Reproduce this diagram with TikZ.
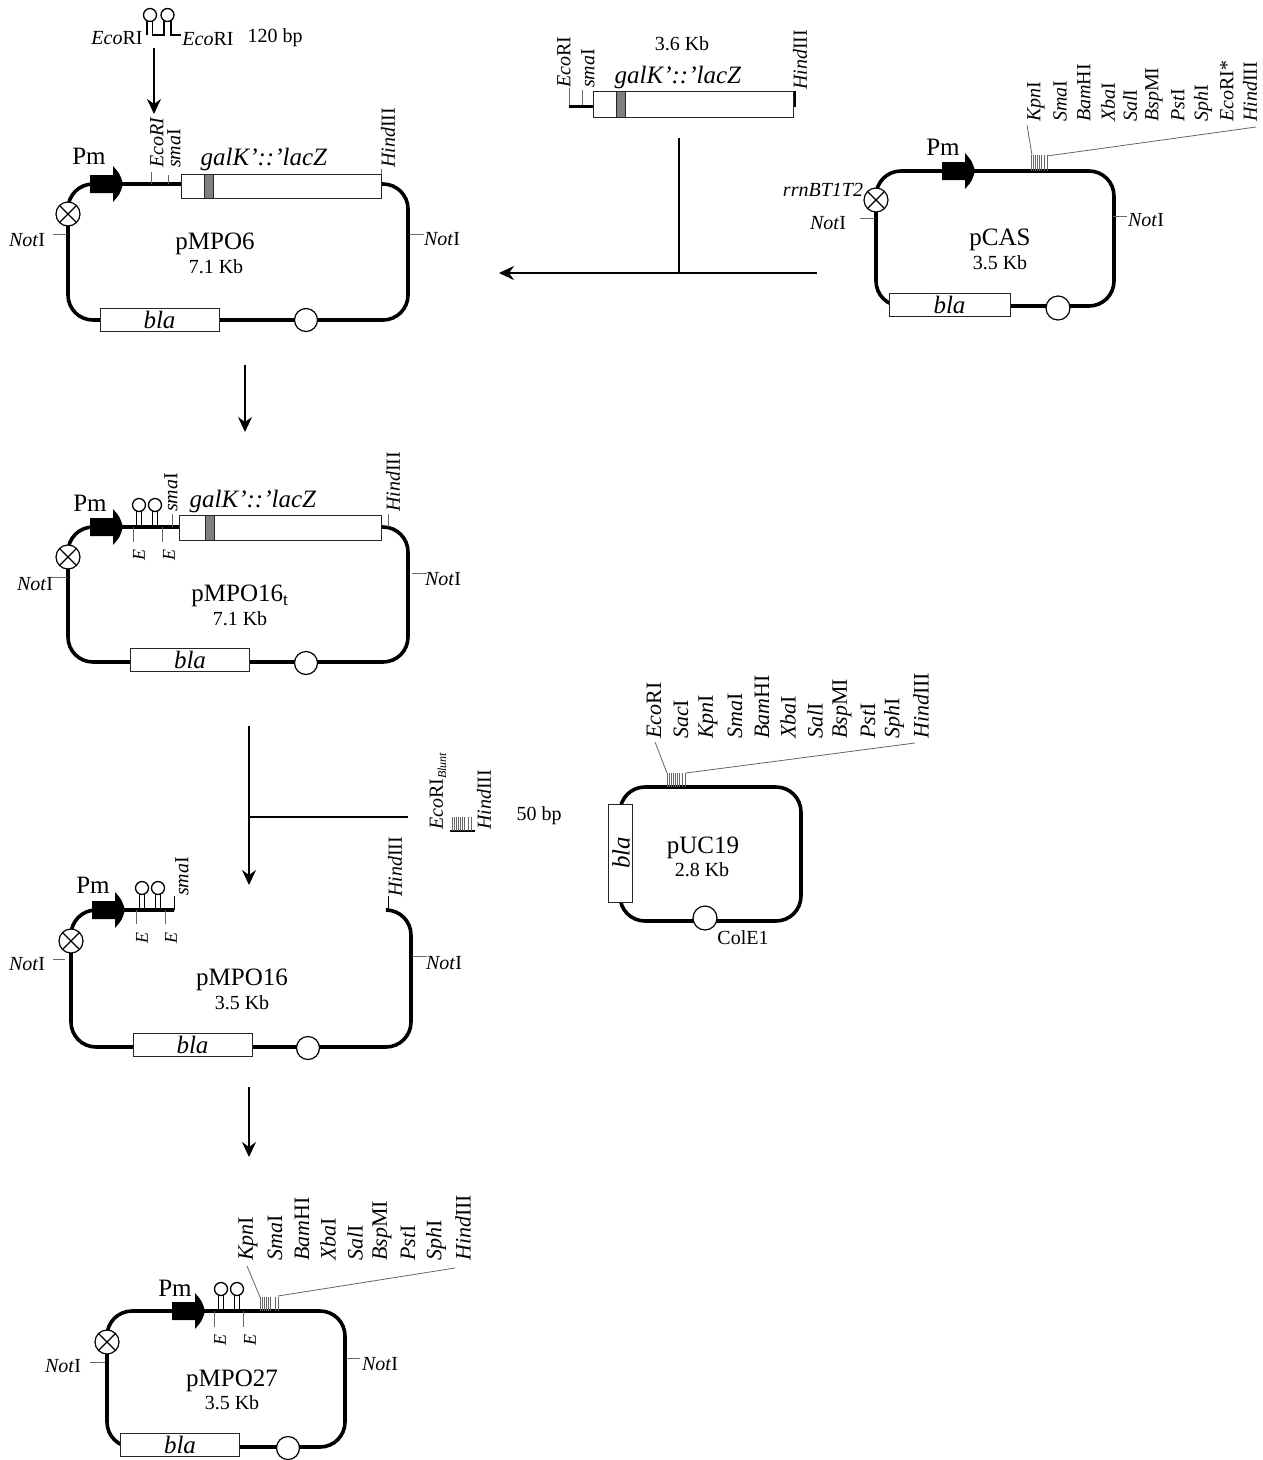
\documentclass[tikz,border=0pt]{standalone}
\usepackage{fontspec}
\setmainfont{Liberation Serif}
\usetikzlibrary{arrows.meta}

\newcommand{\en}[2]{\textit{#1}#2}

\tikzset{
    backbone/.style={line width=3.6pt, rounded corners=25pt},
    flow/.style={line width=1.6pt, -{Stealth[length=15pt,width=14pt,inset=5pt]}},
    flowline/.style={line width=1.6pt},
    tickline/.style={line width=0.8pt, black!60},
    txt/.style={inner sep=0pt, font=\fontsize{20}{22}\selectfont},
    bigtxt/.style={inner sep=0pt, font=\fontsize{25}{27}\selectfont},
    sitetxt/.style={txt, rotate=90, anchor=west},
    sitebig/.style={inner sep=0pt, rotate=90, anchor=west, font=\fontsize{22}{24}\selectfont},
    smalltxt/.style={inner sep=0pt, rotate=90, font=\fontsize{18}{20}\selectfont\itshape},
    blabox/.style={draw=black!85, line width=1pt, fill=white, minimum width=119pt, minimum height=23pt, inner sep=0pt, font=\fontsize{25}{27}\selectfont\itshape},
    genebox/.style={draw=black!85, line width=1pt, fill=white},
    bandbox/.style={draw=black!85, line width=1pt, fill=black!50},
    oribox/.style={draw, line width=1.2pt, fill=white},
    pmarrow/.pic={
        \fill (-33,-9) -- (-10,-9) -- (-10,-18) .. controls (-3,-10) .. (0,0)
            .. controls (-3,10) .. (-10,18) -- (-10,9) -- (-33,9) -- cycle;
    },
    terminator/.pic={
        \draw[line width=1.2pt, fill=white] (0,0) circle (12pt);
        \draw[line width=1.2pt] (-8.5,-8.5) -- (8.5,8.5) (-8.5,8.5) -- (8.5,-8.5);
    },
    hairpin/.pic={
        \draw[line width=1.3pt] (-2.5,0) -- (-2.5,-16) (2.5,0) -- (2.5,-16);
        \draw[line width=1.3pt] (0,-22) circle (6.5pt);
    },
}

\begin{document}
\begin{tikzpicture}[x=1pt,y=-1pt]
    \useasboundingbox (0,0) rectangle (1262,1460);

    % Inserted fragment on top
    \draw[line width=1.3pt] (147,35) -- (147,21);
    \draw[line width=1.3pt] (152.5,21) -- (152.5,35) -- (164,35) -- (164,21);
    \draw[line width=1.3pt] (171,21) -- (171,35) -- (181,35);
    \draw[line width=1.3pt] (150,15) circle (6.5pt) (167.5,15) circle (6.5pt);
    \node[txt] (topEcoA) at (117,38) {\en{Eco}{RI}};
    \node[txt] (topEcoB) at (208,39) {\en{Eco}{RI}};
    \node[txt] (topBp) at (275,38) {120 bp};

    % pMPO6
    \draw[backbone] (68,184) rectangle (408,320);
    \draw[genebox] (181,174) rectangle (381,198);
    \draw[bandbox] (204,174) rectangle (213,198);
    \node[blabox] (blaSix) at (159.5,320) {bla};
    \draw[oribox] (306,320) circle (11.5pt);
    \pic at (68,214) {terminator};
    \pic at (123,184) {pmarrow};
    \draw[tickline] (151,172) -- (151,184);
    \draw[tickline] (168,175) -- (168,184);
    \draw[tickline] (381,169) -- (381,174);
    \draw[tickline] (53,234) -- (67,234);
    \draw[tickline] (409,234) -- (424,234);
    \node[bigtxt] (pmSix) at (89,156) {Pm};
    \node[bigtxt] (geneSix) at (264,159) {\textit{galK\textquoteright::\textquoteright lacZ}};
    \node[sitetxt] (ecoSix) at (157,168) {\textit{EcoRI}};
    \node[sitetxt] (smaSix) at (174,168) {\en{sma}{I}};
    \node[sitetxt] (hindSix) at (388,168) {\en{Hind}{III}};
    \node[txt] (notSixL) at (27,240) {\en{Not}{I}};
    \node[txt] (notSixR) at (442,239) {\en{Not}{I}};
    \node[bigtxt] (nameSix) at (215,244) {pMPO6};
    \node[txt] (sizeSix) at (216,267) {7.1 Kb};

    % Fragment from the top right
    \draw[tickline] (569,88) -- (569,106);
    \draw[tickline] (582,90) -- (582,106);
    \draw[line width=3pt] (569,106) -- (593,106);
    \draw[genebox] (593,91) rectangle (793,117);
    \draw[bandbox] (616,91) rectangle (625,117);
    \draw[line width=1.2pt] (795,91) -- (795,107);
    \node[sitetxt] (ecoFrag) at (564,88) {\en{Eco}{RI}};
    \node[sitetxt] (smaFrag) at (588,88) {\en{sma}{I}};
    \node[sitetxt] (hindFrag) at (800,90) {\en{Hind}{III}};
    \node[bigtxt] (geneFrag) at (678,77) {\textit{galK\textquoteright::\textquoteright lacZ}};
    \node[txt] (sizeFrag) at (682,44) {3.6 Kb};

    % pCAS
    \draw[backbone] (876,171) rectangle (1114,306);
    \node[blabox, minimum width=121pt] (blaCas) at (949.5,305) {bla\hspace{10pt}};
    \draw[oribox] (1058,308) circle (12pt);
    \pic at (876,200) {terminator};
    \pic at (975,171) {pmarrow};
    \foreach \x in {1031,1033,...,1041,1044,1047}
        \draw[tickline] (\x,155) -- (\x,171);
    \draw[tickline] (1027,125) -- (1032,155);
    \draw[tickline] (1047,156) -- (1256,127);
    \draw[tickline] (860,218) -- (875,218);
    \draw[tickline] (1113,216) -- (1127,216);
    \foreach \x/\site in {1036/{\en{Kpn}{I}},1060/{\en{Sma}{I}},1084/{\en{Bam}{HI}},1108/{\en{Xba}{I}},1130/{\en{Sal}{I}},1154/{\en{Bsp}{MI}},1178/{\en{Pst}{I}},1203/{\en{Sph}{I}},1227/{\en{Eco}{RI*}},1250/{\en{Hind}{III}}}
        \node[sitetxt] (casSite\x) at (\x,122) {\site};
    \node[bigtxt] (pmCas) at (943,147) {Pm};
    \node[txt, font=\fontsize{20}{22}\selectfont\itshape] (rrnCas) at (823,190) {rrnBT1T2};
    \node[txt] (notCasL) at (828,223) {\en{Not}{I}};
    \node[txt] (notCasR) at (1146,220) {\en{Not}{I}};
    \node[bigtxt] (nameCas) at (1000,240) {pCAS};
    \node[txt] (sizeCas) at (1000,263) {3.5 Kb};

    % pMPO16t
    \draw[backbone] (68,527) rectangle (408,662);
    \draw[genebox] (179,515) rectangle (381,540);
    \draw[bandbox] (205,515) rectangle (214,540);
    \node[blabox] (blaTee) at (190,660) {bla};
    \draw[oribox] (306,663) circle (11.5pt);
    \pic at (68,557) {terminator};
    \pic at (123,527) {pmarrow};
    \pic at (139,527) {hairpin};
    \pic at (155,527) {hairpin};
    \draw[tickline] (133,527) -- (133,542);
    \draw[tickline] (162,527) -- (162,542);
    \draw[tickline] (172,514) -- (172,527);
    \draw[tickline] (388,514) -- (388,527);
    \draw[tickline] (52,577) -- (67,577);
    \draw[tickline] (412,573) -- (427,573);
    \node[bigtxt] (pmTee) at (90,503) {Pm};
    \node[bigtxt] (geneTee) at (253,501) {\textit{galK\textquoteright::\textquoteright lacZ}};
    \node[sitetxt] (smaTee) at (171,512) {\en{sma}{I}};
    \node[sitetxt] (hindTee) at (393,512) {\en{Hind}{III}};
    \node[smalltxt] (ETeeA) at (139,555) {E};
    \node[smalltxt] (ETeeB) at (169,555) {E};
    \node[txt] (notTeeL) at (35,584) {\en{Not}{I}};
    \node[txt] (notTeeR) at (443,579) {\en{Not}{I}};
    \node[bigtxt] (nameTee) at (240,596) {pMPO16$_{\mathrm{t}}$};
    \node[txt] (sizeTee) at (240,619) {7.1 Kb};

    % pUC19
    \draw[backbone] (620,787) rectangle (801,921);
    \node[blabox, minimum width=24pt, minimum height=98pt] (blaUc) at (620,853) {};
    \node[bigtxt, rotate=90, font=\fontsize{25}{27}\selectfont\itshape] (blaUcTxt) at (621,853) {bla};
    \draw[oribox] (705,918) circle (12pt);
    \foreach \x in {667,669,...,679,682,685}
        \draw[tickline] (\x,773) -- (\x,787);
    \draw[tickline] (655,742) -- (667,773);
    \draw[tickline] (686,773) -- (915,743);
    \foreach \x/\site in {654/{\en{Eco}{RI}},681/{\en{Sac}{I}},708/{\en{Kpn}{I}},735/{\en{Sma}{I}},762/{\en{Bam}{HI}},788/{\en{Xba}{I}},815/{\en{Sal}{I}},842/{\en{Bsp}{MI}},868/{\en{Pst}{I}},894/{\en{Sph}{I}},921/{\en{Hind}{III}}}
        \node[sitebig] (ucSite\x) at (\x,739) {\site};
    \node[bigtxt] (nameUc) at (703,848) {pUC19};
    \node[txt] (sizeUc) at (702,870) {2.8 Kb};
    \node[txt] (oriUc) at (743,938) {ColE1};

    % Linker
    \draw[line width=1.6pt] (450,831) -- (475,831);
    \foreach \x in {452,454,...,464,468,471}
        \draw[tickline] (\x,817) -- (\x,831);
    \node[sitetxt] (ecoLink) at (438,830) {\en{Eco}{RI}$_{\textit{\fontsize{12}{13}\selectfont Blunt}}$};
    \node[sitetxt] (hindLink) at (484,830) {\en{Hind}{III}};
    \node[txt] (sizeLink) at (539,816) {50 bp};

    % pMPO16
    \draw[backbone] (174,910) -- (71,910) -- (71,1047) -- (411,1047) -- (411,910) -- (388,910);
    \node[blabox] (blaOpen) at (192.5,1045) {bla};
    \draw[oribox] (308,1048) circle (11.5pt);
    \pic at (71,941) {terminator};
    \pic at (125,910) {pmarrow};
    \pic at (142,910) {hairpin};
    \pic at (158,910) {hairpin};
    \draw[tickline] (136,910) -- (136,924);
    \draw[tickline] (165,910) -- (165,924);
    \draw[line width=1pt] (174,896) -- (174,910);
    \draw[line width=1pt] (388,896) -- (388,910);
    \draw[tickline] (53,959) -- (65,959);
    \draw[tickline] (413,956) -- (427,956);
    \node[bigtxt] (pmOpen) at (93,885) {Pm};
    \node[sitetxt] (smaOpen) at (182,896) {\en{sma}{I}};
    \node[sitetxt] (hindOpen) at (395,897) {\en{Hind}{III}};
    \node[smalltxt] (EOpenA) at (142,938) {E};
    \node[smalltxt] (EOpenB) at (171,938) {E};
    \node[txt] (notOpenL) at (27,964) {\en{Not}{I}};
    \node[txt] (notOpenR) at (444,963) {\en{Not}{I}};
    \node[bigtxt] (nameOpen) at (242,980) {pMPO16};
    \node[txt] (sizeOpen) at (242,1003) {3.5 Kb};

    % pMPO27
    \draw[backbone] (107,1311) rectangle (345,1447);
    \node[blabox] (blaLast) at (180,1444.5) {bla\hspace{8pt}};
    \draw[oribox] (288,1448) circle (11.5pt);
    \pic at (107,1342) {terminator};
    \pic at (205,1311) {pmarrow};
    \pic at (221,1311) {hairpin};
    \pic at (237,1311) {hairpin};
    \draw[tickline] (214,1311) -- (214,1327);
    \draw[tickline] (243,1311) -- (243,1327);
    \foreach \x in {260,262,...,270,275,278}
        \draw[tickline] (\x,1297) -- (\x,1311);
    \draw[tickline] (247,1266) -- (260,1297);
    \draw[tickline] (278,1296) -- (455,1268);
    \draw[tickline] (90,1362) -- (105,1362);
    \draw[tickline] (346,1358) -- (360,1358);
    \foreach \x/\site in {248/{\en{Kpn}{I}},275/{\en{Sma}{I}},302/{\en{Bam}{HI}},328/{\en{Xba}{I}},355/{\en{Sal}{I}},382/{\en{Bsp}{MI}},408/{\en{Pst}{I}},436/{\en{Sph}{I}},463/{\en{Hind}{III}}}
        \node[sitebig] (lastSite\x) at (\x,1261) {\site};
    \node[bigtxt] (pmLast) at (175,1288) {Pm};
    \node[smalltxt] (ELastA) at (220,1340) {E};
    \node[smalltxt] (ELastB) at (250,1340) {E};
    \node[txt] (notLastL) at (63,1366) {\en{Not}{I}};
    \node[txt] (notLastR) at (380,1364) {\en{Not}{I}};
    \node[bigtxt] (nameLast) at (232,1381) {pMPO27};
    \node[txt] (sizeLast) at (232,1403) {3.5 Kb};

    % Flow arrows
    \coordinate (insertStart) at (154,48);
    \coordinate (insertEnd) at (154,114);
    \coordinate (sixStart) at (245,365);
    \coordinate (sixEnd) at (245,432);
    \coordinate (casStart) at (817,273);
    \coordinate (casEnd) at (499,273);
    \coordinate (fragStart) at (679,138);
    \coordinate (fragEnd) at (679,273);
    \coordinate (teeStart) at (249,726);
    \coordinate (teeEnd) at (249,885);
    \coordinate (linkStart) at (408,817);
    \coordinate (linkEnd) at (249,817);
    \coordinate (openStart) at (249,1087);
    \coordinate (openEnd) at (249,1157);
    \draw[flow] (insertStart) -- (insertEnd);
    \draw[flow] (sixStart) -- (sixEnd);
    \draw[flow] (casStart) -- (casEnd);
    \draw[flowline] (fragStart) -- (fragEnd);
    \draw[flow] (teeStart) -- (teeEnd);
    \draw[flowline] (linkStart) -- (linkEnd);
    \draw[flow] (openStart) -- (openEnd);
\end{tikzpicture}
\end{document}
